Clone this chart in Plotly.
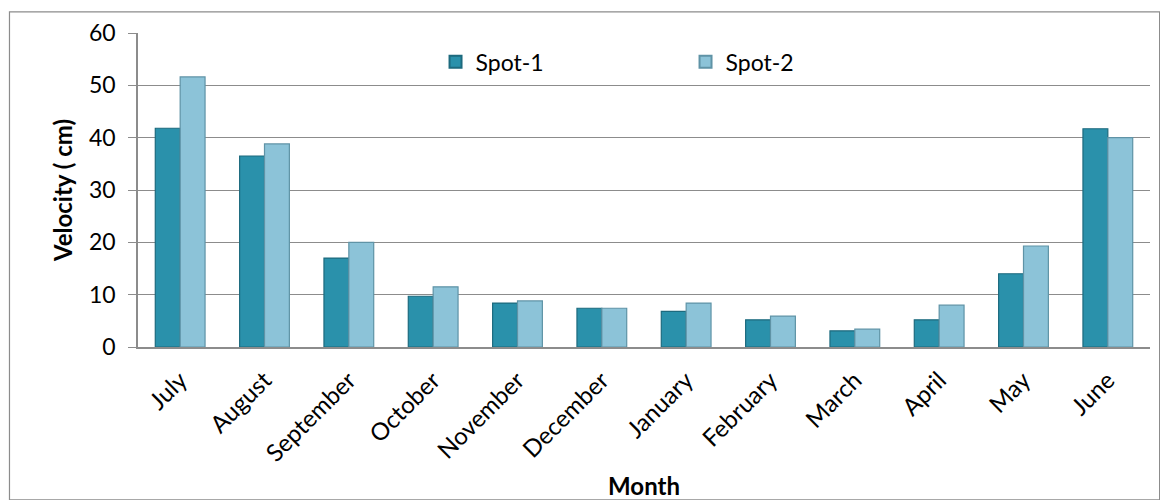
import plotly.graph_objects as go

months = ["July", "August", "September", "October", "November", "December",
          "January", "February", "March", "April", "May", "June"]
spot1 = [41.8, 36.5, 17.0, 9.7, 8.4, 7.4, 6.8, 5.2, 3.1, 5.2, 14.0, 41.7]
spot2 = [51.6, 38.8, 20.0, 11.5, 8.8, 7.4, 8.4, 5.9, 3.4, 8.0, 19.3, 40.0]
y_ticks = [0, 10, 20, 30, 40, 50, 60]

font_family = "Lato, Open Sans, sans-serif"
grid_grey = "#8c8c8c"

fig = go.Figure()
fig.add_trace(go.Bar(
    x=months, y=spot1, name="Spot-1",
    marker=dict(color="#2a91ab", line=dict(color="#1d6a7e", width=1.2)),
))
fig.add_trace(go.Bar(
    x=months, y=spot2, name="Spot-2",
    marker=dict(color="#8cc3d8", line=dict(color="#5f93a6", width=1.2)),
))

fig.update_layout(
    width=1160, height=500,
    margin=dict(l=138, r=10, t=33, b=153),
    paper_bgcolor="white", plot_bgcolor="white",
    barmode="group", bargap=0.41, bargroupgap=0.0,
    font=dict(family=font_family, size=23, color="black"),
    legend=dict(
        orientation="h", x=0.294, y=0.908, xanchor="left", yanchor="middle",
        entrywidth=205, entrywidthmode="pixels",
        font=dict(size=23), bgcolor="rgba(0,0,0,0)",
        itemsizing="constant",
    ),
    xaxis=dict(
        tickangle=-45, showgrid=False, showline=True, automargin=False,
        linecolor=grid_grey, linewidth=1.5, ticks="",
        tickfont=dict(size=24), ticklabelstandoff=8,
        title=dict(text="<b>Month</b>", font=dict(size=24), standoff=18),
    ),
    yaxis=dict(
        range=[0, 60], tickvals=y_ticks, showgrid=True, automargin=False,
        gridcolor=grid_grey, gridwidth=1.3,
        showline=True, linecolor=grid_grey, linewidth=1.5,
        ticks="outside", ticklen=8, tickcolor=grid_grey, tickwidth=1.3,
        tickfont=dict(size=23), ticklabelstandoff=8,
        title=dict(text="<b>Velocity ( cm)</b>", font=dict(size=24), standoff=10),
        zeroline=False,
    ),
    shapes=[dict(
        type="rect", xref="paper", yref="paper",
        x0=-0.127, x1=1.0095, y0=-0.487, y1=1.067,
        line=dict(color=grid_grey, width=1.2), layer="below",
    )],
)

fig.write_html("out.html")
